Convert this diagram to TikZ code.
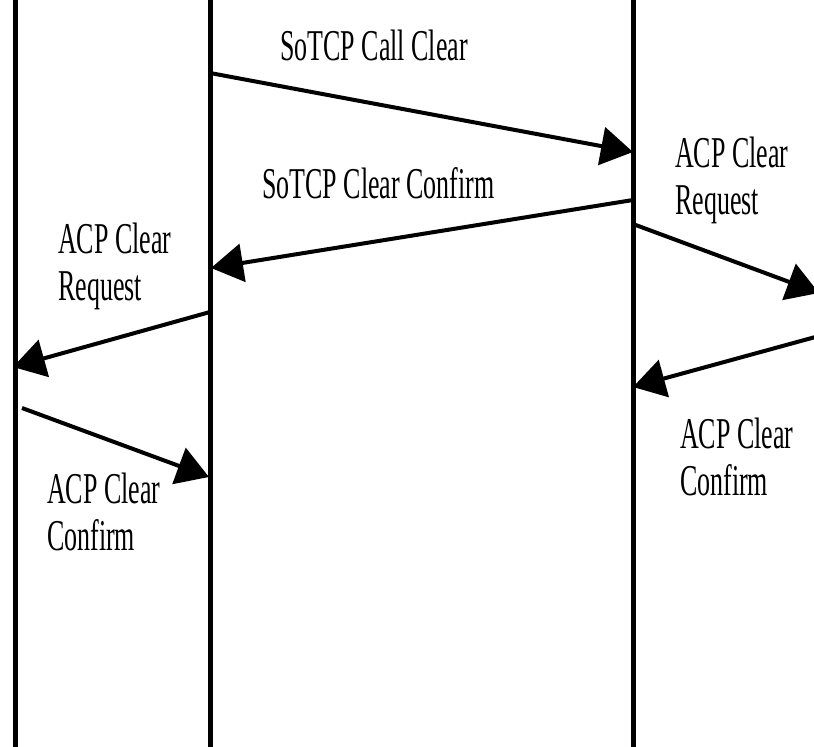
\documentclass[tikz,border=0pt]{standalone}
\usepackage{fontspec}
\setmainfont[FakeStretch=0.59]{Liberation Serif}
\usetikzlibrary{arrows.meta}
\begin{document}
\begin{tikzpicture}[x=1pt,y=-1pt,
    life/.style={line width=5pt},
    msg/.style={line width=4pt,-{Triangle[length=32pt,width=38pt]}},
    lbl/.style={anchor=north west,inner sep=0pt,align=left,
      font=\fontsize{44}{47}\selectfont}]
  \useasboundingbox (0,0) rectangle (814,747);
  % lifelines
  \coordinate (a0) at (15,-5);
  \coordinate (a1) at (15,752);
  \coordinate (b0) at (210,-5);
  \coordinate (b1) at (210,752);
  \coordinate (c0) at (633,-5);
  \coordinate (c1) at (633,752);
  \draw[life] (a0) -- (a1);
  \draw[life] (b0) -- (b1);
  \draw[life] (c0) -- (c1);
  % message ends
  \coordinate (m1s) at (210,73);
  \coordinate (m1e) at (633,152);
  \coordinate (m2s) at (633,200);
  \coordinate (m2e) at (211,268);
  \coordinate (m3s) at (633,224);
  \coordinate (m3e) at (819,293);
  \coordinate (m4s) at (819,336);
  \coordinate (m4e) at (633,387);
  \coordinate (m5s) at (210,312);
  \coordinate (m5e) at (13,367);
  \coordinate (m6s) at (22,408);
  \coordinate (m6e) at (209,477);
  \begin{scope}[msg]
    \draw (m1s) to (m1e);
    \draw (m2s) to (m2e);
    \draw (m3s) to (m3e);
    \draw (m4s) to (m4e);
    \draw (m5s) to (m5e);
    \draw (m6s) to (m6e);
  \end{scope}
  % labels
  \node[lbl] (t1) at (280,30) {SoTCP Call Clear};
  \node[lbl] (t2) at (262,167) {SoTCP Clear Confirm};
  \node[lbl] (t3) at (675,137) {ACP Clear\\Request};
  \node[lbl] (t4) at (680,418) {ACP Clear\\Confirm};
  \node[lbl] (t5) at (58,223) {ACP Clear\\Request};
  \node[lbl] (t6) at (47,473) {ACP Clear\\Confirm};
\end{tikzpicture}
\end{document}
